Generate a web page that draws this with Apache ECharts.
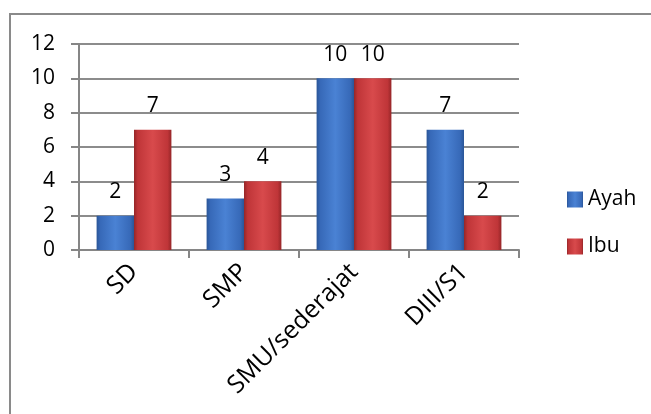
<!DOCTYPE html>
<html>
<head>
<meta charset="utf-8">
<script src="https://cdn.jsdelivr.net/npm/echarts@6/dist/echarts.min.js"></script>
<style>
  html, body { margin: 0; padding: 0; background: #fff; }
  #chart { width: 651px; height: 414px; }
</style>
</head>
<body>
<div id="chart"></div>
<script>
// data
const categories = ['SD', 'SMP', 'SMU/sederajat', 'DIII/S1'];
const ayah = [2, 3, 10, 7];
const ibu = [7, 4, 10, 2];
const seriesNames = ['Ayah', 'Ibu'];

const FONT = '"Open Sans", sans-serif';

// bevelled Excel-like fill
function barFill(dark, mid, light) {
  return new echarts.graphic.LinearGradient(0, 0, 1, 0, [
    { offset: 0, color: dark },
    { offset: 0.1, color: mid },
    { offset: 0.5, color: light },
    { offset: 0.9, color: mid },
    { offset: 1, color: dark }
  ]);
}

const chart = echarts.init(document.getElementById('chart'));

const labelStyle = {
  show: true,
  position: 'top',
  distance: 13,
  color: '#000',
  fontFamily: FONT,
  fontSize: 21
};

const option = {
  animation: false,
  backgroundColor: '#fff',
  graphic: [{
    type: 'rect',
    shape: { x: 10, y: 14, width: 700, height: 500 },
    style: { fill: 'none', stroke: '#8a8a8a', lineWidth: 2 },
    z: -1
  }],
  grid: { left: 79, right: 132, top: 44, bottom: 164 },
  legend: {
    orient: 'vertical',
    left: 562,
    top: 184,
    itemWidth: 16,
    itemHeight: 16,
    itemGap: 26,
    icon: 'rect',
    textStyle: { fontFamily: FONT, fontSize: 21, color: '#000' },
    data: seriesNames
  },
  xAxis: {
    type: 'category',
    data: categories,
    axisLine: { lineStyle: { color: '#868686', width: 2 } },
    axisTick: { show: true, length: 8, lineStyle: { color: '#868686', width: 2 } },
    axisLabel: {
      rotate: 45,
      margin: 18,
      color: '#000',
      fontFamily: FONT,
      fontSize: 25
    }
  },
  yAxis: {
    type: 'value',
    min: 0,
    max: 12,
    interval: 2,
    axisLine: { show: true, lineStyle: { color: '#868686', width: 2 } },
    axisTick: { show: true, length: 8, lineStyle: { color: '#868686', width: 2 } },
    splitLine: { lineStyle: { color: '#8c8c8c', width: 2 } },
    axisLabel: {
      margin: 24,
      color: '#000',
      fontFamily: FONT,
      fontSize: 21
    }
  },
  series: [
    {
      name: seriesNames[0],
      type: 'bar',
      data: ayah,
      barGap: '0%',
      barCategoryGap: '32%',
      itemStyle: { color: barFill('#2a5597', '#3769b8', '#4a82d4') },
      label: labelStyle
    },
    {
      name: seriesNames[1],
      type: 'bar',
      data: ibu,
      itemStyle: { color: barFill('#952628', '#bf3538', '#d84a4c') },
      label: labelStyle
    }
  ]
};

chart.setOption(option);
</script>
</body>
</html>
